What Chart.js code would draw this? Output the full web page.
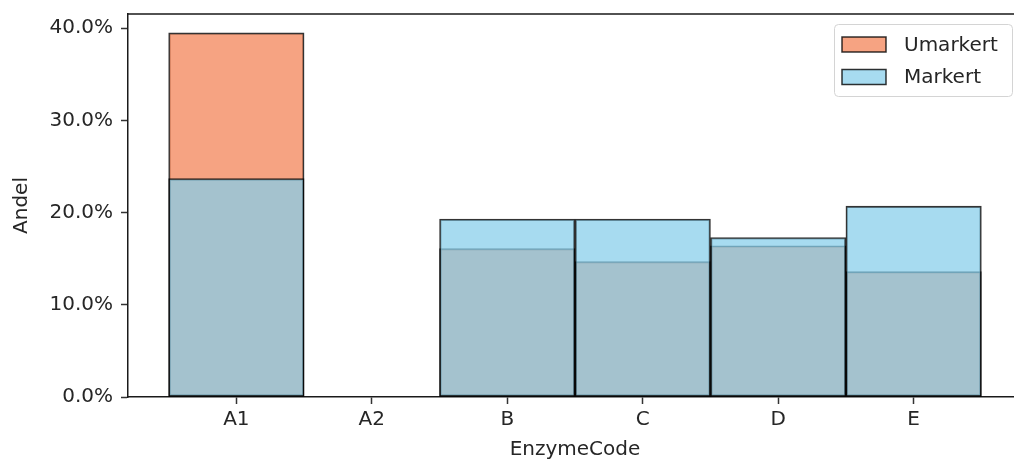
<!DOCTYPE html>
<html>
<head>
<meta charset="utf-8">
<script src="https://cdn.jsdelivr.net/npm/chart.js@4.4.1/dist/chart.umd.min.js"></script>
<style>
  html, body { margin: 0; padding: 0; background: #ffffff; overflow: hidden; }
  #wrap { width: 1014px; height: 465px; overflow: hidden; position: relative; }
  canvas { display: block; }
</style>
</head>
<body>
<div id="wrap"><canvas id="c" width="1040" height="465"></canvas></div>
<script>
// ---- data ----
const categories = ['A1', 'A2', 'B', 'C', 'D', 'E'];
const umarkert = [39.5, 0, 16.1, 14.7, 16.4, 13.6];
const markert  = [23.7, 0, 19.3, 19.3, 17.3, 20.7];
const yTicks = [0, 10, 20, 30, 40];
const seriesNames = ['Umarkert', 'Markert'];

const FONT = 'DejaVu Sans';
const TEXT = '#262626';

function toPoints(arr) { return arr.map((v, i) => ({ x: i, y: v })); }

const legendBox = {
  id: 'legendBox',
  afterDraw(chart) {
    const ctx = chart.ctx;
    const ca = chart.chartArea;
    // top & right spines
    ctx.save();
    ctx.strokeStyle = '#1a1a1a';
    ctx.lineWidth = 1.5;
    ctx.beginPath();
    ctx.moveTo(ca.left, ca.top);
    ctx.lineTo(ca.right, ca.top);
    ctx.lineTo(ca.right, ca.bottom);
    ctx.stroke();
    ctx.restore();

    const w = 178, h = 72;
    const x = ca.right - 10 - w, y = ca.top + 10;
    ctx.save();
    ctx.fillStyle = 'rgba(255,255,255,0.85)';
    ctx.strokeStyle = '#d4d4d4';
    ctx.lineWidth = 1;
    ctx.beginPath();
    ctx.roundRect(x + 0.5, y + 0.5, w, h, 4);
    ctx.fill();
    ctx.stroke();
    ctx.font = '20px "' + FONT + '"';
    ctx.textBaseline = 'middle';
    ctx.textAlign = 'left';
    chart.data.datasets.forEach((ds, i) => {
      const cy = y + 20.5 + i * 32.5;
      ctx.fillStyle = '#ffffff';
      ctx.fillRect(x + 8, cy - 7.5, 44, 15);
      ctx.fillStyle = ds.backgroundColor;
      ctx.fillRect(x + 8, cy - 7.5, 44, 15);
      ctx.strokeStyle = 'rgba(0,0,0,0.8)';
      ctx.lineWidth = 1.5;
      ctx.strokeRect(x + 8, cy - 7.5, 44, 15);
      ctx.fillStyle = TEXT;
      ctx.fillText(ds.label, x + 70, cy + 1);
    });
    ctx.restore();
  }
};

new Chart(document.getElementById('c'), {
  type: 'bar',
  data: {
    datasets: [
      {
        label: seriesNames[0],
        data: toPoints(umarkert),
        backgroundColor: 'rgba(243,132,88,0.75)',
        borderColor: 'rgba(0,0,0,0.8)',
        borderWidth: 1.6,
        borderSkipped: false,
        order: 1
      },
      {
        label: seriesNames[1],
        data: toPoints(markert),
        backgroundColor: 'rgba(135,206,235,0.73)',
        borderColor: 'rgba(0,0,0,0.8)',
        borderWidth: 1.6,
        borderSkipped: false,
        order: 0
      }
    ]
  },
  options: {
    responsive: false,
    animation: false,
    devicePixelRatio: 1,
    layout: { padding: { top: 14, right: 18, bottom: 0, left: 0 } },
    datasets: { bar: { barPercentage: 1, categoryPercentage: 1, grouped: false } },
    plugins: { legend: { display: false }, tooltip: { enabled: false } },
    scales: {
      x: {
        type: 'linear',
        min: -0.8,
        max: 5.8,
        offset: false,
        afterBuildTicks(scale) { scale.ticks = categories.map((c, i) => ({ value: i })); },
        afterFit(scale) { scale.height = 68; scale.paddingLeft = 0; scale.paddingRight = 0; },
        ticks: {
          callback: (v) => categories[v],
          font: { family: FONT, size: 20 },
          color: TEXT,
          padding: 4,
          maxRotation: 0,
          autoSkip: false
        },
        grid: { display: true, offset: false, drawOnChartArea: false, drawTicks: true, tickLength: 7, tickColor: '#333', tickWidth: 1.5 },
        border: { display: true, color: '#1a1a1a', width: 1.5 },
        title: { display: true, text: 'EnzymeCode', font: { family: FONT, size: 20 }, color: TEXT, padding: { top: 0, bottom: 3 } }
      },
      y: {
        type: 'linear',
        min: 0,
        max: 41.55,
        afterBuildTicks(scale) { scale.ticks = yTicks.map(v => ({ value: v })); },
        afterFit(scale) { scale.width = 128; scale.paddingTop = 0; scale.paddingBottom = 0; },
        ticks: {
          callback: (v) => v.toFixed(1) + '%',
          font: { family: FONT, size: 20 },
          color: TEXT,
          padding: 8
        },
        grid: { display: true, offset: false, drawOnChartArea: false, drawTicks: true, tickLength: 7, tickColor: '#333', tickWidth: 1.5 },
        border: { display: true, color: '#1a1a1a', width: 1.5 },
        title: { display: true, text: 'Andel', font: { family: FONT, size: 20 }, color: TEXT, padding: { top: 10, bottom: 0 } }
      }
    }
  },
  plugins: [legendBox]
});
</script>
</body>
</html>
